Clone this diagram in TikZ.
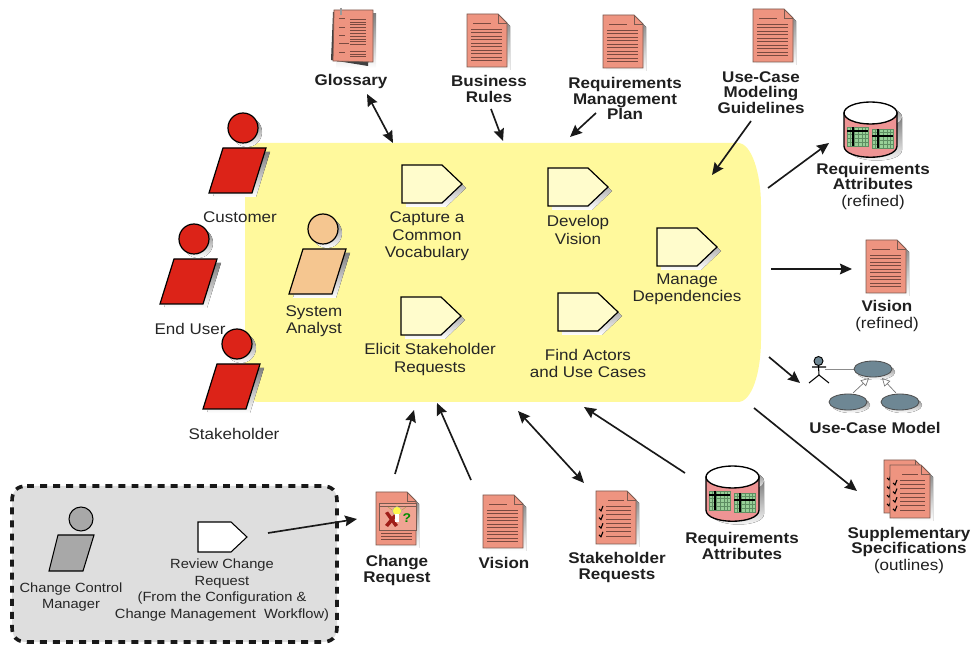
\documentclass[tikz,border=0pt]{standalone}
\usepackage{fontspec}
\setmainfont{Liberation Sans}[FakeStretch=1.1]
\usetikzlibrary{arrows.meta}
\definecolor{blob}{HTML}{FFF99C}
\definecolor{salmon}{HTML}{EE9480}
\definecolor{docline}{HTML}{7A4A40}
\definecolor{docedge}{HTML}{7A5A50}
\definecolor{shade}{HTML}{B4B4B4}
\definecolor{actred}{HTML}{DC2318}
\definecolor{analyst}{HTML}{F5C690}
\definecolor{mgr}{HTML}{A8A8A8}
\definecolor{actfill}{HTML}{FFFCCC}
\definecolor{dbfill}{HTML}{EE9494}
\definecolor{tabfill}{HTML}{98D098}
\definecolor{tabline}{HTML}{5E8E62}
\definecolor{ucfill}{HTML}{6E8794}
\definecolor{boxfill}{HTML}{DEDEDE}
\tikzset{
  x=0.75pt,y=-0.75pt,
  flow/.style={line width=1.25pt,draw=black!90,-{Stealth[length=9pt,width=8pt,inset=1.2pt]}},
  flowboth/.style={line width=1.25pt,draw=black!90,{Stealth[length=9pt,width=8pt,inset=1.2pt]}-{Stealth[length=9pt,width=8pt,inset=1.2pt]}},
  lab/.style={font=\fontsize{11.6pt}{13pt}\selectfont,align=center,inner sep=0pt,text=black!85},
  sml/.style={font=\fontsize{10pt}{12.3pt}\selectfont,align=center,inner sep=0pt,text=black!85},
  blab/.style={font=\fontsize{11.6pt}{11.7pt}\selectfont\bfseries,align=center,inner sep=0pt,text=black!88},
  personicon/.pic={
    \fill[shade] (-16,24) -- (27,24) -- (13,69) -- (-30,69) -- cycle;
    \fill[shade] (4,4) circle (15);
    \draw[fill=#1,line width=0.9pt] (0,0) circle (15);
    \draw[fill=#1,line width=0.9pt] (-20,20) -- (23,20) -- (9,65) -- (-34,65) -- cycle;
  },
  stepicon/.pic={
    \fill[shade] (4,4) -- (44,4) -- (64,23) -- (44,42) -- (4,42) -- cycle;
    \draw[fill=#1,line width=0.9pt] (0,0) -- (40,0) -- (60,19) -- (40,38) -- (0,38) -- cycle;
  },
  docbase/.pic={
    \fill[shade] (3,3) -- (34,3) -- (43,12) -- (43,56) -- (3,56) -- cycle;
    \fill[salmon,draw=docedge,line width=0.7pt] (0,0) -- (31,0) -- (40,9) -- (40,53) -- (0,53) -- cycle;
    \draw[docedge,line width=0.6pt] (31,0) -- (31,9) -- (40,9);
  },
  docicon/.pic={
    \pic {docbase};
    \draw[docline,line width=0.5pt] (6,9) -- (24,9);
    \foreach \k in {0,...,9}{\draw[docline,line width=0.5pt] (4,15+3.5*\k) -- (35,15+3.5*\k);}
  },
  checkicon/.pic={
    \pic {docbase};
    \draw[docline,line width=0.5pt] (12,9) -- (28,9);
    \foreach \k in {0,...,7}{\draw[docline,line width=0.5pt] (10,15+4.3*\k) -- (35,15+4.3*\k);}
    \foreach \k in {0,...,3}{\draw[black,line width=0.8pt] (3,18+8.6*\k) -- (5,20+8.6*\k) -- (7,15+8.6*\k);}
  },
  dbicon/.pic={
    \fill[shade] (5,15) -- (58,15) -- (58,48) .. controls (58,62) and (8,62) .. (5,48) -- cycle;
    \fill[shade] (31.5,15) ellipse (26.5 and 11);
    \draw[fill=dbfill,line width=1pt] (0,11) -- (0,44) .. controls (0,59) and (53,59) .. (53,44) -- (53,11) -- cycle;
    \draw[fill=white,line width=1pt] (26.5,11) ellipse (26.5 and 11);
    \foreach \a/\b/\c/\d in {3/25/6/4,28/27/6/7}{
      \begin{scope}[shift={(\a,\b)}]
        \fill[tabfill,draw=tabline,line width=0.4pt] (0,0) rectangle (21,19);
        \foreach \k in {3,7,11,15,18}{\draw[tabline,line width=0.3pt] (\k,0) -- (\k,19);}
        \foreach \k in {3,7,11,15}{\draw[tabline,line width=0.3pt] (0,\k) -- (21,\k);}
        \draw[black,line width=1.1pt] (\c,0) -- (\c,19);
        \draw[black,line width=1.1pt] (0,\d) -- (21,\d);
      \end{scope}}
  }
}
\begin{document}
\begin{tikzpicture}
\useasboundingbox (0,0) rectangle (976,645);
% main band
\fill[blob] (260,143) -- (738,143) .. controls (752,143) and (761,175) .. (761,205)
  -- (761,340) .. controls (761,372) and (752,402) .. (738,402) -- (260,402)
  .. controls (250,402) and (245,397) .. (245,387) -- (245,158)
  .. controls (245,148) and (250,143) .. (260,143) -- cycle;
% change box
\fill[boxfill] (27,486) -- (322,486) .. controls (332,486) and (337,491) .. (337,501) -- (337,627)
  .. controls (337,637) and (332,642) .. (322,642) -- (27,642) .. controls (17,642) and (12,637) .. (12,627)
  -- (12,501) .. controls (12,491) and (17,486) .. (27,486) -- cycle;
\draw[black!90,line width=2.7pt,dash pattern=on 5.2pt off 4.6pt] (27,486) -- (322,486) .. controls (332,486) and (337,491) .. (337,501) -- (337,627)
  .. controls (337,637) and (332,642) .. (322,642) -- (27,642) .. controls (17,642) and (12,637) .. (12,627)
  -- (12,501) .. controls (12,491) and (17,486) .. (27,486) -- cycle;
% workers
\pic at (243,128) {personicon=actred};
\pic at (194,239) {personicon=actred};
\pic at (237,344) {personicon=actred};
\pic at (323,229) {personicon=analyst};
\draw[fill=mgr,line width=0.8pt] (81,519) circle (12);
\draw[fill=mgr,line width=0.8pt] (58,535) -- (94,535) -- (83,571) -- (49,571) -- cycle;
% activities
\pic at (402,165) {stepicon=actfill};
\pic at (548,168) {stepicon=actfill};
\pic at (657,228) {stepicon=actfill};
\pic at (401,297) {stepicon=actfill};
\pic at (558,293) {stepicon=actfill};
\draw[fill=white,line width=0.8pt] (198,522) -- (231,522) -- (247,537) -- (231,552) -- (198,552) -- cycle;
% documents
\pic at (467,14) {docicon};
\pic at (603,15) {docicon};
\pic at (753,9) {docicon};
\pic at (866,240) {docicon};
\pic at (483,495) {docicon};
\pic at (596,491) {checkicon};
\pic at (884,460) {checkicon};
\pic at (890,465) {checkicon};
% glossary
\fill[shade] (336,14) -- (376,14) -- (376,68) -- (336,68) -- cycle;
\fill[black!75] (333,12) -- (331,60) -- (368,66) -- (372,14) -- cycle;
\fill[salmon,draw=docedge,line width=0.6pt] (334,10) -- (373,10) -- (373,62) -- (333,61) -- cycle;
\foreach \yy in {18,27,35,43,52}{\draw[docline,line width=0.7pt] (339,\yy) -- (345,\yy);}
\draw[docline,line width=0.7pt] (339,43) -- (349,43);
\foreach \k in {0,...,5}{\draw[docline,line width=0.5pt] (350,19+2.9*\k) -- (366,19+2.9*\k);}
\foreach \k in {0,...,3}{\draw[docline,line width=0.5pt] (350,36+2.9*\k) -- (366,36+2.9*\k);}
\foreach \k in {0,...,2}{\draw[docline,line width=0.5pt] (350,52+2.9*\k-1) -- (366,52+2.9*\k-1);}
\draw[black!40,line width=1.4pt] (341,8) -- (341,15);
% change request icon
\pic at (376,492) {docbase};
\fill[salmon!85!white,draw=docedge,line width=0.7pt] (379,503) rectangle (416,530);
\draw[docedge,line width=0.5pt] (379,506) -- (416,506);
\draw[yellow!60!black,line width=0.3pt] (388,507) -- (392,510) (406,507) -- (402,510) (397,503.5) -- (397,505);
\fill[red!55!black!80!salmon,line width=0.3pt] (385,513) -- (388,511.5) -- (398,525) -- (395,527) -- cycle;
\fill[red!55!black!80!salmon,line width=0.3pt] (396,512) -- (399,514) -- (388,527) -- (385,525) -- cycle;
\fill[yellow!70!white,draw=black!35,line width=0.3pt] (397,511) circle (4.5);
\fill[white] (395,514) rectangle (399,522);
\node (qmark) [inner sep=0pt,text=green!55!black,font=\fontsize{9.5pt}{10pt}\selectfont\bfseries] at (407,518) {?};
\foreach \yy in {533,536,539}{\draw[docline,line width=0.5pt] (381,\yy) -- (412,\yy);}
% databases
\pic at (844,102) {dbicon};
\pic at (706,466) {dbicon};
% use-case model
\coordinate (ucactor) at (825,369);
\coordinate (ucmain) at (873,369);
\coordinate (ucleft) at (853,393);
\coordinate (ucright) at (896,393);
\coordinate (ucgenl) at (869,378);
\coordinate (ucgenr) at (882,378);
\draw[black!45,line width=0.6pt] (ucactor) -- (ucmain);
\fill[shade] (851,405) ellipse (19 and 8);
\fill[shade] (903,405) ellipse (19 and 8);
\fill[shade] (876,372) ellipse (19 and 8);
\draw[black!70,fill=ucfill,line width=0.6pt] (ucmain) ellipse (19 and 8);
\draw[black!70,fill=ucfill,line width=0.6pt] (848,402) ellipse (19 and 8);
\draw[black!70,fill=ucfill,line width=0.6pt] (900,402) ellipse (19 and 8);
\draw[black!55,line width=0.5pt,-{Triangle[open,length=6pt,width=6pt]}] (ucleft) -- (ucgenl);
\draw[black!55,line width=0.5pt,-{Triangle[open,length=6pt,width=6pt]}] (ucright) -- (ucgenr);
\draw[black,fill=ucfill,line width=0.7pt] (818.5,361) circle (4.5);
\draw[black,line width=0.8pt] (818.5,365.5) -- (819,375) (812,367) -- (826,367) (809,383) -- (819,375) -- (829,383);
% labels
\node (customer) [lab] at (240,217) {Customer};
\node (enduser) [lab] at (190,329) {End User};
\node (stakeholder) [lab] at (234,434) {Stakeholder};
\node (analyst) [lab] at (314,321) {System\\Analyst};
\node (capture) [lab] at (427,236.5) {Capture a\\Common\\Vocabulary};
\node (develop) [lab] at (578,230) {Develop\\Vision};
\node (manage) [lab] at (687,289.5) {Manage\\Dependencies};
\node (elicit) [lab] at (430,359.5) {Elicit Stakeholder\\Requests};
\node (findact) [lab] at (588,363.5) {Find Actors\\and Use Cases};
\node (ccm) [sml] at (71,597) {Change Control\\Manager};
\node (review) [sml] at (222,590) {Review Change\\Request\\(From the Configuration \&\\Change Management\ \ Workflow)};
\node (gloss) [blab] at (351,82) {Glossary};
\node (brules) [blab] at (489,89) {Business\\Rules};
\node (rmp) [blab] at (625,98.5) {Requirements\\Management\\Plan};
\node (ucg) [blab] at (761,92.5) {Use-Case\\Modeling\\Guidelines};
\node (raref) [blab] at (873,186.5) {Requirements\\Attributes\\[0.8pt]{\normalfont (refined)}};
\node (vref) [blab] at (887,316) {Vision\\[0.8pt]{\normalfont (refined)}};
\node (ucm) [blab] at (875,428) {Use-Case Model};
\node (cr) [blab] at (397,570.5) {Change\\Request};
\node (vis) [blab] at (504,563) {Vision};
\node (sr) [blab] at (617,567.5) {Stakeholder\\Requests};
\node (ra) [blab] at (742,546) {Requirements\\Attributes};
\node (supp) [blab] at (909,550.5) {Supplementary\\Specifications\\[0.8pt]{\normalfont (outlines)}};
% connector ends
\coordinate (a1) at (367,94);   \coordinate (b1) at (393,143);
\coordinate (a2) at (491,109);  \coordinate (b2) at (503,141);
\coordinate (a3) at (596,113);  \coordinate (b3) at (570,137);
\coordinate (a4) at (751,121);  \coordinate (b4) at (712,175);
\coordinate (a5) at (768,188);  \coordinate (b5) at (829,143);
\coordinate (a6) at (771,269);  \coordinate (b6) at (852,269);
\coordinate (a7) at (769,357);  \coordinate (b7) at (800,383);
\coordinate (a8) at (754,408);  \coordinate (b8) at (857,491);
\coordinate (a9) at (685,473);  \coordinate (b9) at (584,407);
\coordinate (a10) at (518,411); \coordinate (b10) at (584,483);
\coordinate (a11) at (471,480); \coordinate (b11) at (437,403);
\coordinate (a12) at (395,474); \coordinate (b12) at (414,410);
\coordinate (a13) at (268,533); \coordinate (b13) at (357,519);
\draw[flowboth] (a1) -- (b1);
\draw[flow] (a2) -- (b2);
\draw[flow] (a3) -- (b3);
\draw[flow] (a4) -- (b4);
\draw[flow] (a5) -- (b5);
\draw[flow] (a6) -- (b6);
\draw[flow] (a7) -- (b7);
\draw[flow] (a8) -- (b8);
\draw[flow] (a9) -- (b9);
\draw[flowboth] (a10) -- (b10);
\draw[flow] (a11) -- (b11);
\draw[flow] (a12) -- (b12);
\draw[flow] (a13) -- (b13);
\end{tikzpicture}
\end{document}
